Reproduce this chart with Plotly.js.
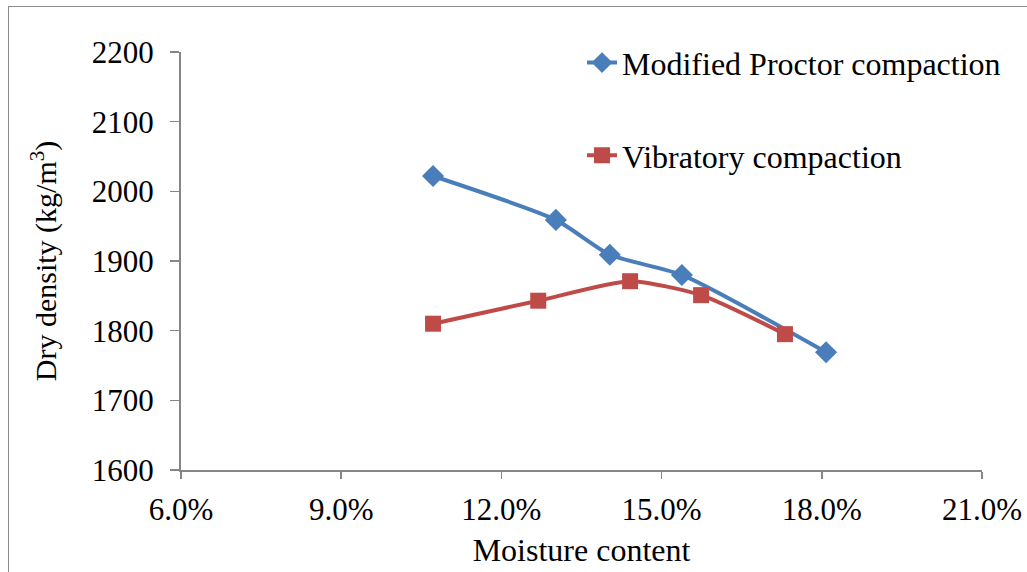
<!DOCTYPE html>
<html><head><meta charset="utf-8">
<script src="https://cdn.plot.ly/plotly-3.0.1.min.js"></script>
<style>
html,body{margin:0;padding:0;background:#fff;overflow:hidden}
#chart{width:1027px;height:572px;position:relative}
#frame{position:absolute;left:8px;top:6px;width:1030px;height:580px;border:1px solid #8c8c8c;pointer-events:none;z-index:5}
</style></head>
<body>
<div id="chart"></div>
<div id="frame"></div>
<script>
const seriesNames = ['Modified Proctor compaction', 'Vibratory compaction'];
const proctorMoisture = [0.1072, 0.1302, 0.1403, 0.1538, 0.1808];
const proctorDensity = [2022, 1959, 1909, 1880, 1769];
const vibMoisture = [0.1072, 0.1269, 0.1441, 0.1574, 0.1731];
const vibDensity = [1810, 1843, 1871, 1851, 1795];

const FONT = 'Liberation Serif';
const traces = [
  {x: proctorMoisture, y: proctorDensity, name: seriesNames[0], mode: 'lines+markers',
   legendgroup: 'a',
   line: {color: '#4A7EBB', width: 4, shape: 'spline', smoothing: 0.6},
   marker: {symbol: 'diamond', size: 17, color: '#4A7EBB'}},
  {x: vibMoisture, y: vibDensity, name: seriesNames[1], mode: 'lines+markers',
   legendgroup: 'b',
   line: {color: '#BE4B48', width: 4, shape: 'spline', smoothing: 0.6},
   marker: {symbol: 'square', size: 16, color: '#BE4B48'}}
];
const layout = {
  width: 1027, height: 572,
  margin: {l: 181, r: 45, t: 52, b: 102},
  paper_bgcolor: '#fff', plot_bgcolor: '#fff',
  font: {family: FONT, size: 32, color: '#000'},
  showlegend: true,
  legend: {x: 1.03, y: 1.04, xanchor: 'right', yanchor: 'top', bgcolor: 'rgba(0,0,0,0)',
           font: {family: FONT, size: 32}, traceorder: 'grouped', tracegroupgap: 48},
  xaxis: {range: [0.06, 0.21], dtick: 0.03, tick0: 0.06, tickformat: '.1%', automargin: false,
          showgrid: false, zeroline: false, showline: true, linecolor: '#868686', linewidth: 2,
          ticks: 'outside', ticklen: 7, tickcolor: '#868686', tickwidth: 1.5,
          ticklabelstandoff: 4,
          tickfont: {family: FONT, size: 31},
          title: {text: 'Moisture content', font: {family: FONT, size: 32}, standoff: 12}},
  yaxis: {range: [1600, 2200], dtick: 100, tick0: 1600, automargin: false,
          showgrid: false, zeroline: false, showline: true, linecolor: '#868686', linewidth: 2,
          ticks: 'outside', ticklen: 9, tickcolor: '#868686', tickwidth: 1.5,
          ticklabelstandoff: 10,
          tickfont: {family: FONT, size: 31},
          title: {text: 'Dry density (kg/m<sup>3</sup>)', font: {family: FONT, size: 30}, standoff: 26}}
};
Plotly.newPlot('chart', traces, layout, {displayModeBar: false, staticPlot: true});
</script>
</body></html>
